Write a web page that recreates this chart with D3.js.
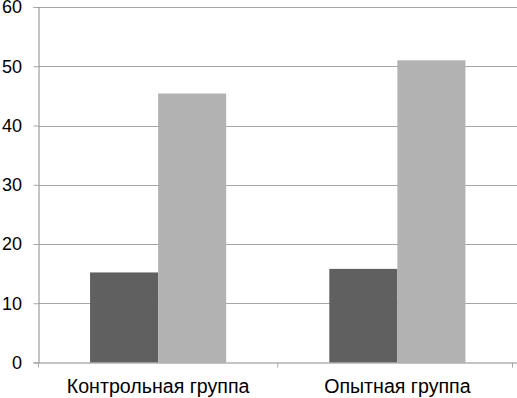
<!DOCTYPE html>
<html>
<head>
<meta charset="utf-8">
<script src="https://cdn.jsdelivr.net/npm/d3@7"></script>
<style>
  body { margin: 0; background: #fff; }
  svg { display: block; font-family: "Liberation Sans", Arial, sans-serif; }
</style>
</head>
<body>
<div id="plot"></div>
<script>
const categories = ['Контрольная группа', 'Опытная группа'];
const seriesNames = ['s1', 's2'];
const series1 = [15.2, 15.8];
const series2 = [45.4, 51.0];
const yTicks = [0, 10, 20, 30, 40, 50, 60];
const colors = ['#606060', '#b2b2b2'];

const width = 517;
const height = 398;
const margin = { top: 7, right: 0, bottom: 35.5, left: 38.5 };

const svg = d3.select('#plot').append('svg')
  .attr('width', width)
  .attr('height', height);

const y = d3.scaleLinear()
  .domain([0, 60])
  .range([height - margin.bottom, margin.top]);

const x = d3.scaleBand()
  .domain(categories)
  .range([margin.left, width - margin.right])
  .padding(0);

// bars take ~57% of each category band, no gap between them
const groupFrac = 0.569;
const xInner = d3.scaleBand()
  .domain(seriesNames)
  .range([x.bandwidth() * (1 - groupFrac) / 2, x.bandwidth() * (1 + groupFrac) / 2]);

// gridlines
svg.append('g')
  .selectAll('line').data(yTicks.filter(d => d > 0))
  .enter().append('line')
    .attr('x1', margin.left)
    .attr('x2', width - margin.right)
    .attr('y1', d => Math.round(y(d)) + 0.5)
    .attr('y2', d => Math.round(y(d)) + 0.5)
    .attr('stroke', '#a6a6a6')
    .attr('stroke-width', 1);

// bars
const data = categories.map((c, i) => ({ cat: c, vals: [series1[i], series2[i]] }));
const groups = svg.append('g').selectAll('g').data(data)
  .enter().append('g')
    .attr('transform', d => `translate(${x(d.cat)},0)`);
groups.selectAll('rect')
  .data(d => d.vals.map((v, j) => ({ key: seriesNames[j], v: v, j: j })))
  .enter().append('rect')
    .attr('x', d => xInner(d.key))
    .attr('width', xInner.bandwidth())
    .attr('y', d => y(d.v))
    .attr('height', d => y(0) - y(d.v))
    .attr('fill', d => colors[d.j]);

// y axis
const yAxis = d3.axisLeft(y)
  .tickValues(yTicks)
  .tickSize(5)
  .tickPadding(11.5)
  .tickFormat(d3.format('d'));
const yG = svg.append('g')
  .attr('transform', `translate(${margin.left},0)`)
  .call(yAxis);
yG.selectAll('line').attr('stroke', '#a6a6a6');
yG.select('.domain').attr('stroke', '#8a8a8a');
yG.selectAll('text')
  .attr('font-size', 18)
  .attr('fill', '#000')
  .style('font-family', '"Liberation Sans", Arial, sans-serif');

// x axis
const xAxis = d3.axisBottom(x).tickSize(0).tickPadding(17);
const xG = svg.append('g')
  .attr('transform', `translate(0,${y(0)})`)
  .call(xAxis);
xG.select('.domain').attr('stroke', '#8a8a8a');
xG.selectAll('text')
  .attr('font-size', 19.6)
  .attr('fill', '#000')
  .style('font-family', '"Liberation Sans", Arial, sans-serif');

// category boundary ticks
const bounds = [margin.left, margin.left + x.bandwidth(), width - margin.right - 4.5];
svg.append('g').selectAll('line').data(bounds)
  .enter().append('line')
    .attr('x1', d => d)
    .attr('x2', d => d)
    .attr('y1', y(0))
    .attr('y2', y(0) + 5)
    .attr('stroke', '#a6a6a6');
</script>
</body>
</html>
